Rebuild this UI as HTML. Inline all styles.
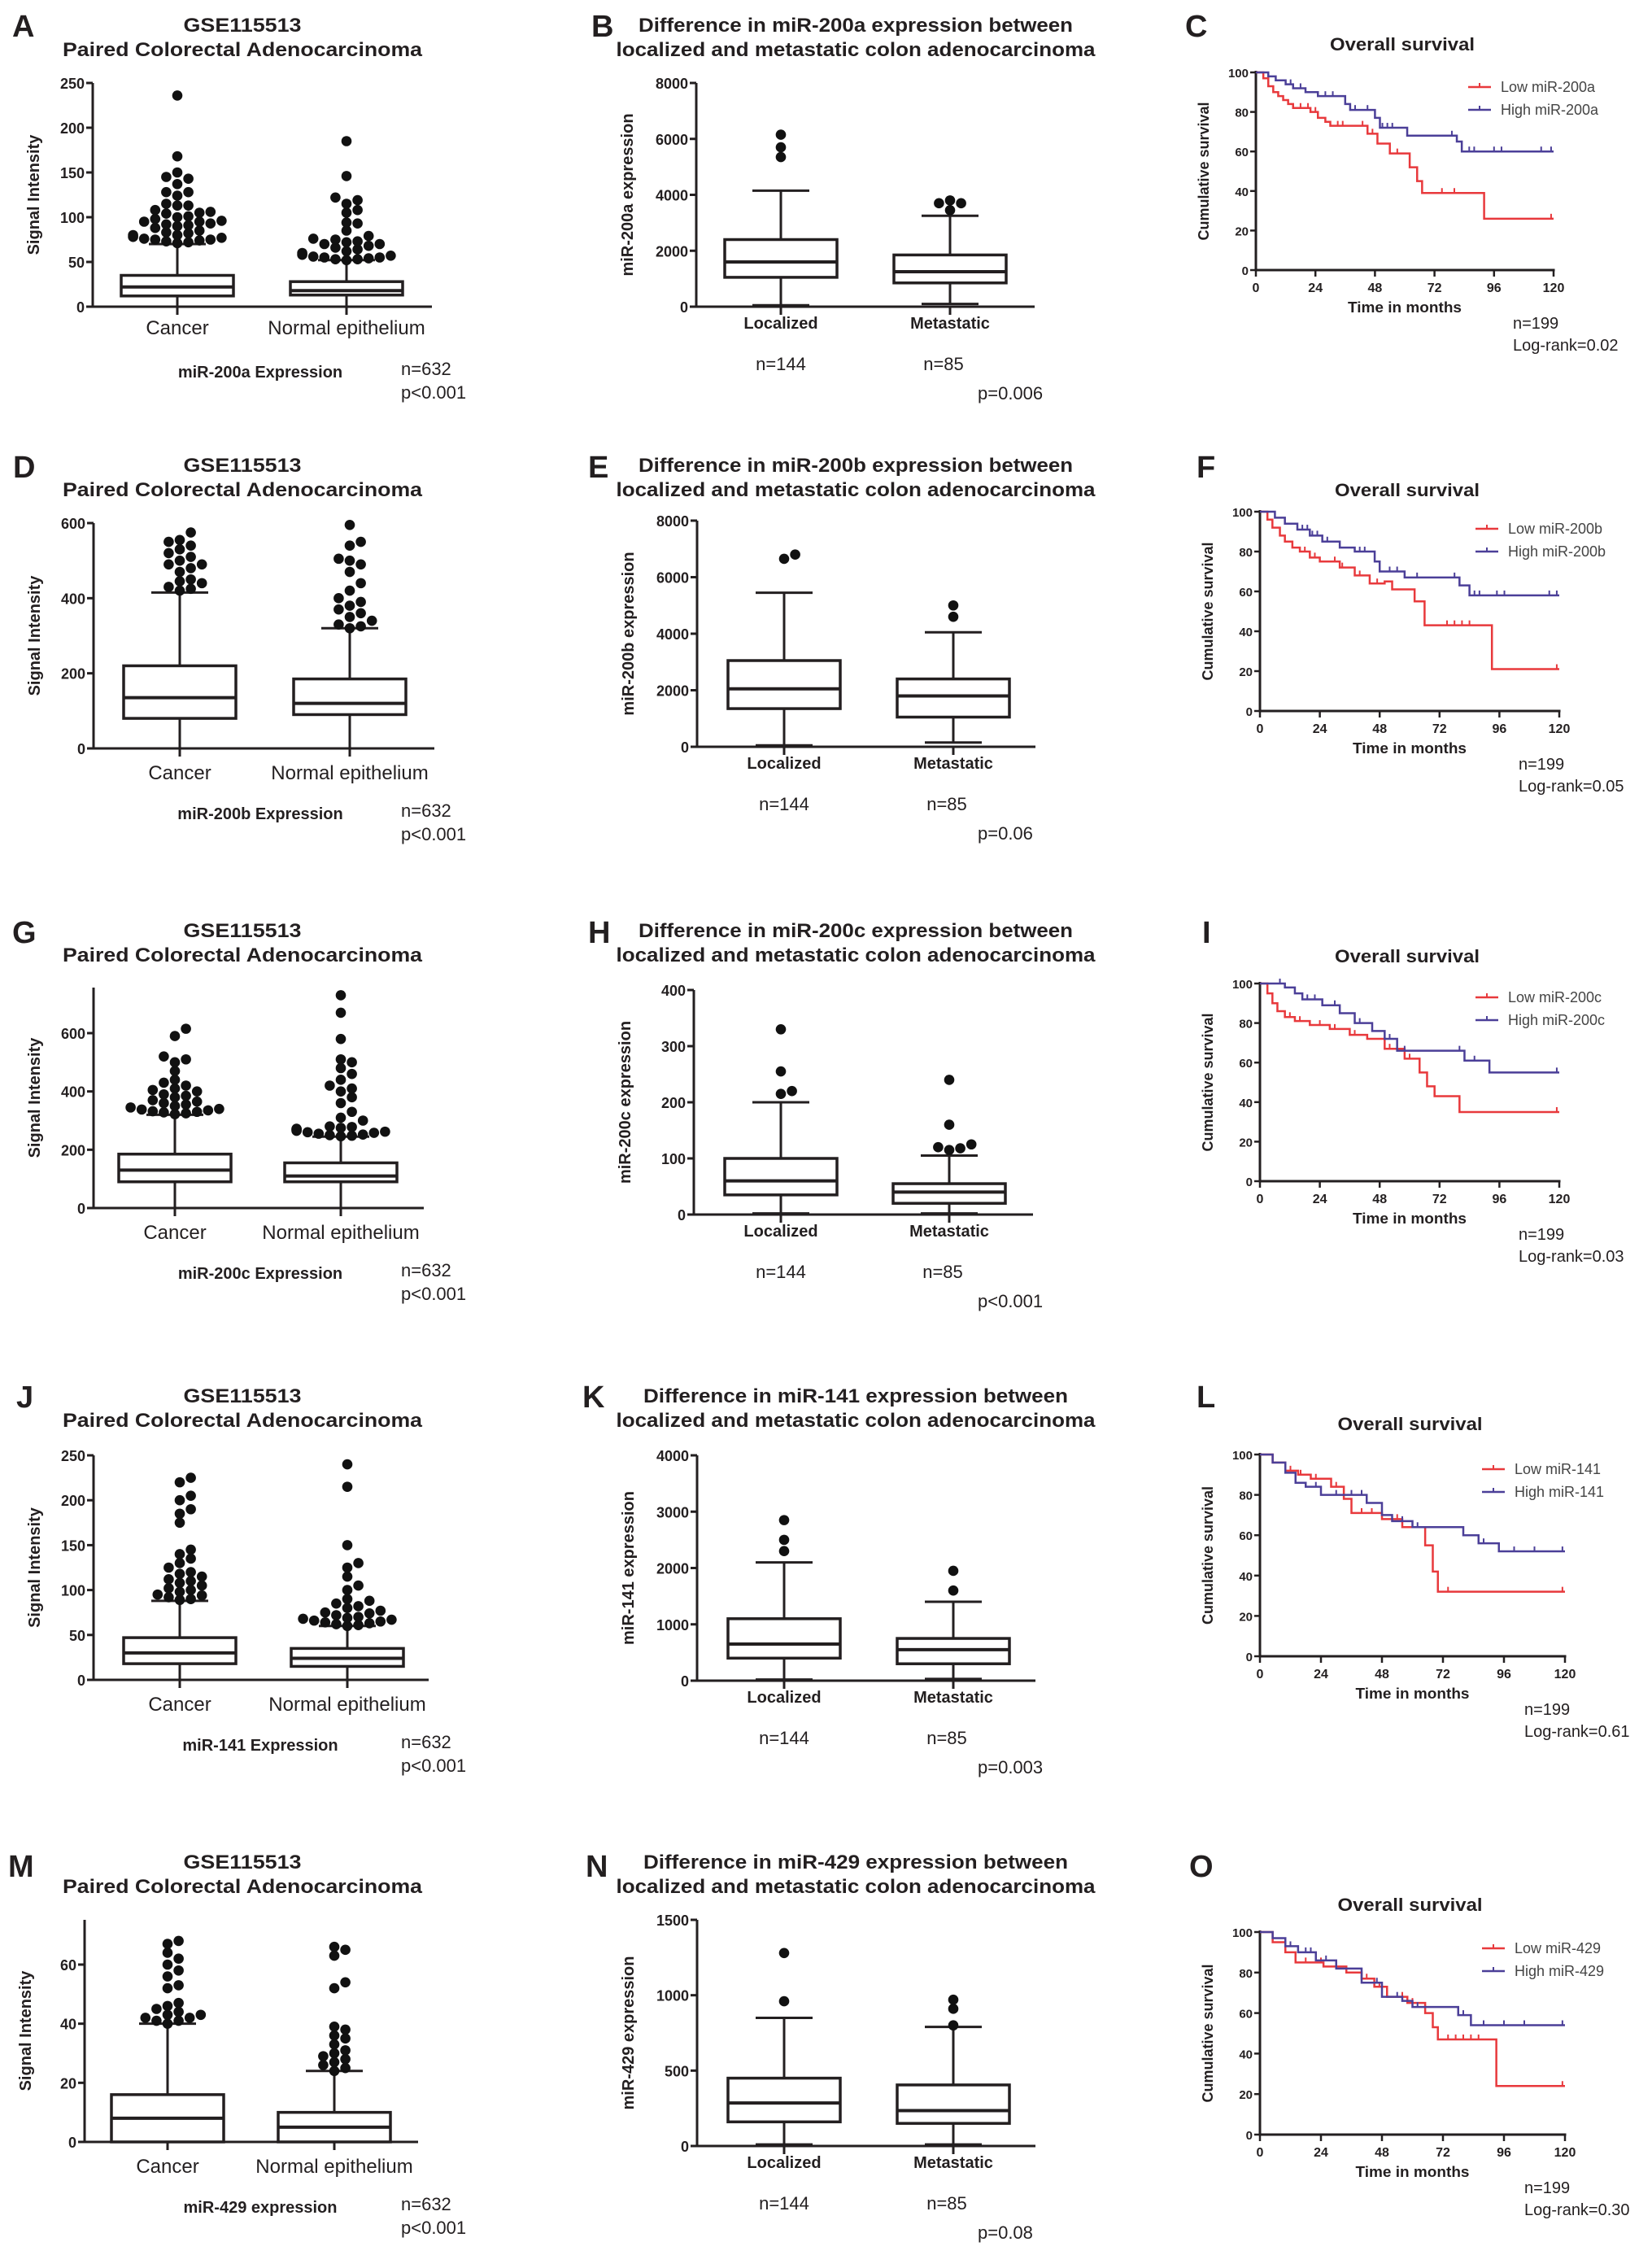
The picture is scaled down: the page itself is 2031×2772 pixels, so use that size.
<!DOCTYPE html>
<html><head><meta charset="utf-8">
<style>
html,body{margin:0;padding:0;background:#fff;}
svg{display:block;font-family:"Liberation Sans",Arial,sans-serif;}
</style></head>
<body>
<svg id="fig" width="2031" height="2772" viewBox="0 0 2031 2772" xmlns="http://www.w3.org/2000/svg"></svg>
<script>
// ---------- DATA ----------
const boxCategories = ["Cancer","Normal epithelium"];
const stageCategories = ["Localized","Metastatic"];
// stats = [whiskerLow, q1, median, q3, whiskerHigh]
const A_ticks = [0,50,100,150,200,250];
const A_cancer_stats = [0,12,22,35,70];
const A_normal_stats = [0,13,18,28,52];
const A_cancer_out = [71,72,73,74,75,75,76,77,78,80,80,82,83,85,88,90,91,92,93,95,95,96,98,100,101,104,105,106,108,113,115,113,128,128,124,137,143,145,150,168,236];
const A_normal_out = [52,53,53,54,55,55,56,57,58,60,62,64,66,68,70,70,72,73,75,76,79,85,93,94,105,108,115,119,122,146,185];

const B_ticks = [0,2000,4000,6000,8000];
const B_loc_stats = [50,1050,1600,2400,4150];
const B_met_stats = [100,850,1250,1850,3250];
const B_loc_out = [5350,5700,6150];
const B_met_out = [3450,3700,3700,3800];

const D_ticks = [0,200,400,600];
const D_cancer_stats = [0,80,135,220,415];
const D_normal_stats = [0,90,120,185,320];
const D_cancer_out = [420,425,430,440,445,450,470,480,490,490,500,510,520,530,540,550,555,575];
const D_normal_out = [320,325,330,340,350,360,370,380,390,400,420,440,470,490,500,505,540,550,595];

const E_ticks = [0,2000,4000,6000,8000];
const E_loc_stats = [50,1350,2050,3050,5450];
const E_met_stats = [150,1050,1800,2400,4050];
const E_loc_out = [6650,6800];
const E_met_out = [4600,5000];

const G_ticks = [0,200,400,600];
const G_cancer_stats = [0,90,130,185,320];
const G_normal_stats = [0,90,110,155,245];
const G_cancer_out = [322,325,328,330,332,335,338,340,345,350,355,360,365,370,380,385,390,400,405,410,420,430,440,470,500,510,520,590,615];
const G_normal_out = [246,248,250,252,255,258,260,262,265,268,270,272,275,278,280,300,310,330,360,380,400,410,420,440,460,480,500,510,580,670,730];

const H_ticks = [0,100,200,300,400];
const H_loc_stats = [2,35,60,100,200];
const H_met_stats = [2,20,40,55,105];
const H_loc_out = [215,220,255,330];
const H_met_out = [115,118,120,125,160,240];

const J_ticks = [0,50,100,150,200,250];
const J_cancer_stats = [0,18,30,47,88];
const J_normal_stats = [0,15,24,35,60];
const J_cancer_out = [89,90,92,94,95,98,100,102,105,108,110,112,115,118,120,125,130,135,140,145,175,185,190,200,205,220,225];
const J_normal_out = [60,61,62,63,64,65,66,67,68,69,70,72,74,75,77,80,82,85,88,90,100,105,115,125,130,150,215,240];

const K_ticks = [0,1000,2000,3000,4000];
const K_loc_stats = [20,400,650,1100,2100];
const K_met_stats = [30,300,550,750,1400];
const K_loc_out = [2300,2500,2850];
const K_met_out = [1600,1950];

const M_ticks = [0,20,40,60];
const M_cancer_stats = [0,0,8,16,40];
const M_normal_stats = [0,0,5,10,24];
const M_cancer_out = [40,41,41,42,42,43,43,44,45,46,47,52,53,56,58,60,62,64,67,68];
const M_normal_out = [24,25,26,27,28,29,30,31,33,35,36,38,39,52,54,63,65,66];

const N_ticks = [0,500,1000,1500];
const N_loc_stats = [10,160,285,450,850];
const N_met_stats = [10,150,235,405,790];
const N_loc_out = [960,1280];
const N_met_out = [800,910,970];

// KM data: step start times & survival (%)
const kmTicksX = [0,24,48,72,96,120];
const kmTicksY = [0,20,40,60,80,100];
const C_low_t = [0,3,5,7,9,11,13,15,22,25,28,30,45,49,54,62,65,67,92];
const C_low_s = [100,97,93,90,88,86,84,82,80,77,75,73,69,64,59,52,45,39,26];
const C_high_t = [0,5,8,12,15,20,25,36,38,48,50,61,81,83];
const C_high_s = [100,98,96,94,92,90,88,84,81,77,72,68,65,60];
const C_low_c = [18,21,24,33,35,43,47,57,75,80,119];
const C_high_c = [14,18,28,31,40,45,51,53,55,79,86,88,96,99,115,119];

const F_low_t = [0,3,5,8,10,13,16,20,24,32,38,44,50,53,62,66,93];
const F_low_s = [100,96,92,88,85,82,80,77,75,72,68,64,65,61,55,43,21];
const F_high_t = [0,6,10,15,20,25,32,38,46,48,58,80,84];
const F_high_s = [100,97,94,91,88,85,82,80,75,70,67,63,58];
const F_low_c = [18,22,30,33,40,47,75,78,81,84,119];
const F_high_c = [17,19,21,23,27,40,42,52,55,63,78,86,88,95,98,116,119];

const I_low_t = [0,3,5,7,10,14,20,28,36,43,50,58,64,67,70,80];
const I_low_s = [100,95,90,86,83,81,79,77,74,72,67,62,55,48,43,35];
const I_high_t = [0,10,14,17,25,32,38,45,50,55,82,92];
const I_high_s = [100,98,95,92,89,85,80,76,72,66,61,55];
const I_low_c = [12,16,24,30,38,52,60,70,119];
const I_high_c = [8,19,22,30,40,52,58,80,86,119];

const L_low_t = [0,5,10,15,20,28,33,36,48,56,65,68,70];
const L_low_s = [100,96,92,90,88,84,78,71,68,64,55,42,32];
const L_high_t = [0,5,10,14,18,24,42,48,52,60,80,86,94];
const L_high_s = [100,96,91,86,84,80,76,70,67,64,60,56,52];
const L_low_c = [12,16,22,30,40,44,54,74,119];
const L_high_c = [14,18,22,30,36,40,56,62,80,88,100,108,119];

const O_low_t = [0,5,10,14,25,34,40,45,50,58,65,68,70,93];
const O_low_s = [100,95,90,85,83,80,77,73,68,65,60,53,47,24];
const O_high_t = [0,5,10,15,22,30,40,48,56,60,78,83];
const O_high_s = [100,97,93,90,86,82,75,68,66,63,59,54];
const O_low_c = [14,18,24,30,42,47,56,60,74,77,80,83,86,119];
const O_high_c = [12,18,20,26,30,46,54,62,80,88,96,104,119];

// ---------- DRAWING ----------
const NS = "http://www.w3.org/2000/svg";
const svg = document.getElementById('fig');
const INK = "#231f20", RED = "#e8393c", BLUE = "#4b3f98";
function mk(tag, attrs, parent){
  const e = document.createElementNS(NS, tag);
  for (const k in attrs) e.setAttribute(k, attrs[k]);
  (parent || svg).appendChild(e);
  return e;
}
function txt(parent, x, y, s, size, weight, anchor, len){
  const e = mk('text', {x:x, y:y, 'font-size':size, 'font-weight':weight, 'text-anchor':anchor || 'start', fill:INK}, parent);
  if (len) { e.setAttribute('textLength', len); e.setAttribute('lengthAdjust', 'spacingAndGlyphs'); }
  e.textContent = s;
  return e;
}
function line(parent, x1, y1, x2, y2, w, c){
  return mk('line', {x1:x1, y1:y1, x2:x2, y2:y2, stroke:c || INK, 'stroke-width':w || 3}, parent);
}

function panelLetter(x, y, s){
  const t = txt(svg, x, y, s, 38, 'bold');
  
  
}

function boxPanel(cfg, ticks, cats, statsList, outList){
  const g = mk('g', {});
  
  
  const sc = (cfg.y0 - cfg.yTick) / cfg.vTick;
  const Y = v => cfg.y0 - v * sc;
  const t1 = txt(g, cfg.titleX, cfg.titleY, cfg.title[0], 24, 'bold', 'middle', cfg.titleLen[0]);
  
  
  const t2 = txt(g, cfg.titleX, cfg.titleY + 30, cfg.title[1], 24, 'bold', 'middle', cfg.titleLen[1]);
  
  
  const ya = line(g, cfg.axisX, cfg.axisTop, cfg.axisX, cfg.y0 + 1.5, 3);
  
  
  const xa = line(g, cfg.axisX, cfg.y0, cfg.xEnd, cfg.y0, 3);
  
  
  ticks.forEach(v => {
    const tk = line(g, cfg.axisX - 8, Y(v), cfg.axisX, Y(v), 3);
    
    
    const tl = txt(g, cfg.axisX - 10, Y(v) + 7, String(v), 18, 'bold', 'end');
    
    
  });
  const yt = txt(g, 0, 0, cfg.yTitle, 20, 'bold', 'middle');
  yt.setAttribute('transform', 'translate(' + (cfg.axisX - cfg.yTitleOff) + ',' + ((cfg.axisTop + cfg.y0) / 2) + ') rotate(-90)');
  
  
  cats.forEach((c, i) => {
    const cx = cfg.catX[i];
    const st = statsList[i];
    const xt = line(g, cx, cfg.y0, cx, cfg.y0 + 10, 3);
    
    
    const lab = txt(g, cx, cfg.y0 + cfg.labOff, c, cfg.labSize, cfg.labWeight, 'middle');
    
    
    const bw = cfg.boxW, cw = 70;
    const wl = line(g, cx, Y(st[0]), cx, Y(st[1]), 3);
    
    
    const wh = line(g, cx, Y(st[3]), cx, Y(st[4]), 3);
    
    
    const cl = line(g, cx - cw / 2, Y(st[0]), cx + cw / 2, Y(st[0]), 3);
    
    
    const ch = line(g, cx - cw / 2, Y(st[4]), cx + cw / 2, Y(st[4]), 3);
    
    
    const bx = mk('rect', {x:cx - bw / 2, y:Y(st[3]), width:bw, height:Y(st[1]) - Y(st[3]), fill:'#fff', stroke:INK, 'stroke-width':3.5}, g);
    
    
    const md = line(g, cx - bw / 2, Y(st[2]), cx + bw / 2, Y(st[2]), 4);
    
    
    const r = 6.3, placed = [];
    outList[i].slice().sort((a, b) => a - b).forEach(v => {
      const y = Y(v);
      let best = 0;
      for (let k = 0; k < 14; k++) {
        const off = (k % 2 ? 1 : -1) * Math.ceil(k / 2) * (2 * r + 1);
        if (Math.abs(off) > 66) break;
        const ok = placed.every(p => Math.hypot(p[0] - off, p[1] - y) >= 1.5 * r);
        if (ok) { best = off; break; }
        best = off;
      }
      placed.push([best, y]);
      const d = mk('circle', {cx:cx + best, cy:y, r:r, fill:'#111'}, g);
      
      
    });
  });
  cfg.notes.forEach(n => {
    const a = txt(g, n[0], n[1], n[2], n[3], n[4], n[5] || 'start');
    
    
  });
}

function kmPanel(cfg, curves){
  const g = mk('g', {});
  
  
  const X = t => cfg.axisX + t / 120 * (cfg.x120 - cfg.axisX);
  const Y = s => cfg.y0 - s / 100 * (cfg.y0 - cfg.y100);
  const tt = txt(g, cfg.titleX, cfg.titleY, 'Overall survival', 22, 'bold', 'middle', 178);
  
  
  const ya = line(g, cfg.axisX, cfg.y100 - 2, cfg.axisX, cfg.y0 + 1.5, 3);
  
  
  const xa = line(g, cfg.axisX - 1.5, cfg.y0, cfg.x120 + 1.5, cfg.y0, 3);
  
  
  kmTicksY.forEach(v => {
    const tk = line(g, cfg.axisX - 7, Y(v), cfg.axisX, Y(v), 2.5);
    
    
    const tl = txt(g, cfg.axisX - 9, Y(v) + 6, String(v), 15, 'bold', 'end');
    
    
  });
  kmTicksX.forEach(v => {
    const tk = line(g, X(v), cfg.y0, X(v), cfg.y0 + 8, 2.5);
    
    
    const tl = txt(g, X(v), cfg.y0 + 27, String(v), 16, 'bold', 'middle');
    
    
  });
  const xt = txt(g, (cfg.axisX + cfg.x120) / 2, cfg.y0 + 52, 'Time in months', 18, 'bold', 'middle', 140);
  
  
  const yt = txt(g, 0, 0, 'Cumulative survival', 18, 'bold', 'middle');
  yt.setAttribute('transform', 'translate(' + (cfg.axisX - 58) + ',' + ((cfg.y100 + cfg.y0) / 2) + ') rotate(-90)');
  
  
  curves.forEach((c, ci) => {
    let d = 'M' + X(c.t[0]) + ' ' + Y(c.s[0]);
    for (let i = 1; i < c.t.length; i++) d += ' H' + X(c.t[i]) + ' V' + Y(c.s[i]);
    d += ' H' + X(120);
    const p = mk('path', {d:d, fill:'none', stroke:c.color, 'stroke-width':2.5}, g);
    
    
    c.c.forEach(tm => {
      let s = c.s[0];
      for (let i = 0; i < c.t.length; i++) if (c.t[i] <= tm) s = c.s[i];
      const m = line(g, X(tm), Y(s) - 6, X(tm), Y(s), 2, c.color);
      
      
    });
    const ly = cfg.legY + ci * 28;
    const ll = line(g, cfg.legX, ly, cfg.legX + 28, ly, 2.5, c.color);
    
    
    const lm = line(g, cfg.legX + 14, ly - 5, cfg.legX + 14, ly, 2, c.color);
    
    
    const lt = txt(g, cfg.legX + 40, ly + 6, c.label, 18, 'normal');
    lt.setAttribute('fill', '#444');
    
    
  });
  const n1 = txt(g, cfg.x120 - 50, cfg.y0 + 72, 'n=199', 20, 'normal');
  
  
  const n2 = txt(g, cfg.x120 - 50, cfg.y0 + 99, cfg.logrank, 20, 'normal');
  
  
}

// ---------- LAYOUT ----------
const rows = [
  {L:['A','B','C'], lx:[15,727,1457], ly:45, t1:39, kt:62, mi:'miR-200a',
   A:{axisX:114,y0:377,vTick:250,yTick:102,axisTop:102,xEnd:531,catX:[218,426]}, At:A_ticks, As:[A_cancer_stats,A_normal_stats], Ao:[A_cancer_out,A_normal_out], expr:'miR-200a Expression',
   B:{axisX:856,y0:377,vTick:8000,yTick:102,axisTop:102,xEnd:1272,catX:[960,1168]}, Bt:B_ticks, Bs:[B_loc_stats,B_met_stats], Bo:[B_loc_out,B_met_out], bp:'p=0.006',
   C:{axisX:1544,x120:1910,y100:89,y0:332,legX:1805,legY:107}, Cc:[[C_low_t,C_low_s,C_low_c],[C_high_t,C_high_s,C_high_c]], lr:'Log-rank=0.02'},
  {L:['D','E','F'], lx:[16,723,1471], ly:587, t1:580, kt:610, mi:'miR-200b',
   A:{axisX:115,y0:920,vTick:600,yTick:643,axisTop:643,xEnd:534,catX:[221,430]}, At:D_ticks, As:[D_cancer_stats,D_normal_stats], Ao:[D_cancer_out,D_normal_out], expr:'miR-200b Expression',
   B:{axisX:857,y0:918,vTick:8000,yTick:640,axisTop:640,xEnd:1273,catX:[964,1172]}, Bt:E_ticks, Bs:[E_loc_stats,E_met_stats], Bo:[E_loc_out,E_met_out], bp:'p=0.06',
   C:{axisX:1549,x120:1917,y100:629,y0:874,legX:1814,legY:650}, Cc:[[F_low_t,F_low_s,F_low_c],[F_high_t,F_high_s,F_high_c]], lr:'Log-rank=0.05'},
  {L:['G','H','I'], lx:[15,723,1478], ly:1159, t1:1152, kt:1183, mi:'miR-200c',
   A:{axisX:115,y0:1485,vTick:600,yTick:1270,axisTop:1214,xEnd:521,catX:[215,419]}, At:G_ticks, As:[G_cancer_stats,G_normal_stats], Ao:[G_cancer_out,G_normal_out], expr:'miR-200c Expression',
   B:{axisX:853,y0:1493,vTick:400,yTick:1217,axisTop:1217,xEnd:1270,catX:[960,1167]}, Bt:H_ticks, Bs:[H_loc_stats,H_met_stats], Bo:[H_loc_out,H_met_out], bp:'p<0.001',
   C:{axisX:1549,x120:1917,y100:1209,y0:1452,legX:1814,legY:1226}, Cc:[[I_low_t,I_low_s,I_low_c],[I_high_t,I_high_s,I_high_c]], lr:'Log-rank=0.03'},
  {L:['J','K','L'], lx:[20,716,1471], ly:1730, t1:1724, kt:1758, mi:'miR-141',
   A:{axisX:115,y0:2065,vTick:250,yTick:1789,axisTop:1789,xEnd:527,catX:[221,427]}, At:J_ticks, As:[J_cancer_stats,J_normal_stats], Ao:[J_cancer_out,J_normal_out], expr:'miR-141 Expression',
   B:{axisX:857,y0:2066,vTick:4000,yTick:1789,axisTop:1789,xEnd:1273,catX:[964,1172]}, Bt:K_ticks, Bs:[K_loc_stats,K_met_stats], Bo:[K_loc_out,K_met_out], bp:'p=0.003',
   C:{axisX:1549,x120:1924,y100:1788,y0:2036,legX:1822,legY:1806}, Cc:[[L_low_t,L_low_s,L_low_c],[L_high_t,L_high_s,L_high_c]], lr:'Log-rank=0.61'},
  {L:['M','N','O'], lx:[10,720,1462], ly:2307, t1:2297, kt:2349, mi:'miR-429',
   A:{axisX:104,y0:2633,vTick:60,yTick:2415,axisTop:2360,xEnd:514,catX:[206,411]}, At:M_ticks, As:[M_cancer_stats,M_normal_stats], Ao:[M_cancer_out,M_normal_out], expr:'miR-429 expression',
   B:{axisX:857,y0:2638,vTick:1500,yTick:2360,axisTop:2360,xEnd:1273,catX:[964,1172]}, Bt:N_ticks, Bs:[N_loc_stats,N_met_stats], Bo:[N_loc_out,N_met_out], bp:'p=0.08',
   C:{axisX:1549,x120:1924,y100:2375,y0:2624,legX:1822,legY:2395}, Cc:[[O_low_t,O_low_s,O_low_c],[O_high_t,O_high_s,O_high_c]], lr:'Log-rank=0.30'}
];

rows.forEach((r, ri) => {
  r.L.forEach((l, i) => panelLetter(r.lx[i], r.ly, l));
  const a = Object.assign({}, r.A, {
    name: 'panel-' + r.L[0].toLowerCase() + '-paired-boxplot', boxW:138,
    title:['GSE115513','Paired Colorectal Adenocarcinoma'], titleLen:[145,442], titleX:298, titleY:r.t1,
    yTitle:'Signal Intensity', yTitleOff:66, labOff: ri === 0 ? 34 : 38, labSize:24, labWeight:'normal',
    notes:[[320, r.A.y0 + 87, r.expr, 20, 'bold', 'middle'], [493, r.A.y0 + 84, 'n=632', 22, 'normal'], [493, r.A.y0 + 113, 'p<0.001', 22, 'normal']]
  });
  boxPanel(a, r.At, boxCategories, r.As, r.Ao);
  const b = Object.assign({}, r.B, {
    name: 'panel-' + r.L[1].toLowerCase() + '-stage-boxplot', boxW:138,
    title:['Difference in ' + r.mi + ' expression between','localized and metastatic colon adenocarcinoma'],
    titleLen:[r.mi.length > 7 ? 534 : 522, 589], titleX:1052, titleY:r.t1,
    yTitle: r.mi + ' expression', yTitleOff:78, labOff:27, labSize:20, labWeight:'bold',
    notes:[[r.B.catX[0], r.B.y0 + 78, 'n=144', 22, 'normal', 'middle'], [r.B.catX[1] - 8, r.B.y0 + 78, 'n=85', 22, 'normal', 'middle'], [1202, r.B.y0 + 114, r.bp, 22, 'normal']]
  });
  boxPanel(b, r.Bt, stageCategories, r.Bs, r.Bo);
  const c = Object.assign({}, r.C, {
    name: 'panel-' + r.L[2].toLowerCase() + '-survival', titleX:(r.C.axisX + r.C.x120) / 2 - 3, titleY:r.kt, logrank:r.lr
  });
  kmPanel(c, [
    {key:'low', label:'Low ' + r.mi, color:RED, t:r.Cc[0][0], s:r.Cc[0][1], c:r.Cc[0][2]},
    {key:'high', label:'High ' + r.mi, color:BLUE, t:r.Cc[1][0], s:r.Cc[1][1], c:r.Cc[1][2]}
  ]);
});
</script>
</body></html>
